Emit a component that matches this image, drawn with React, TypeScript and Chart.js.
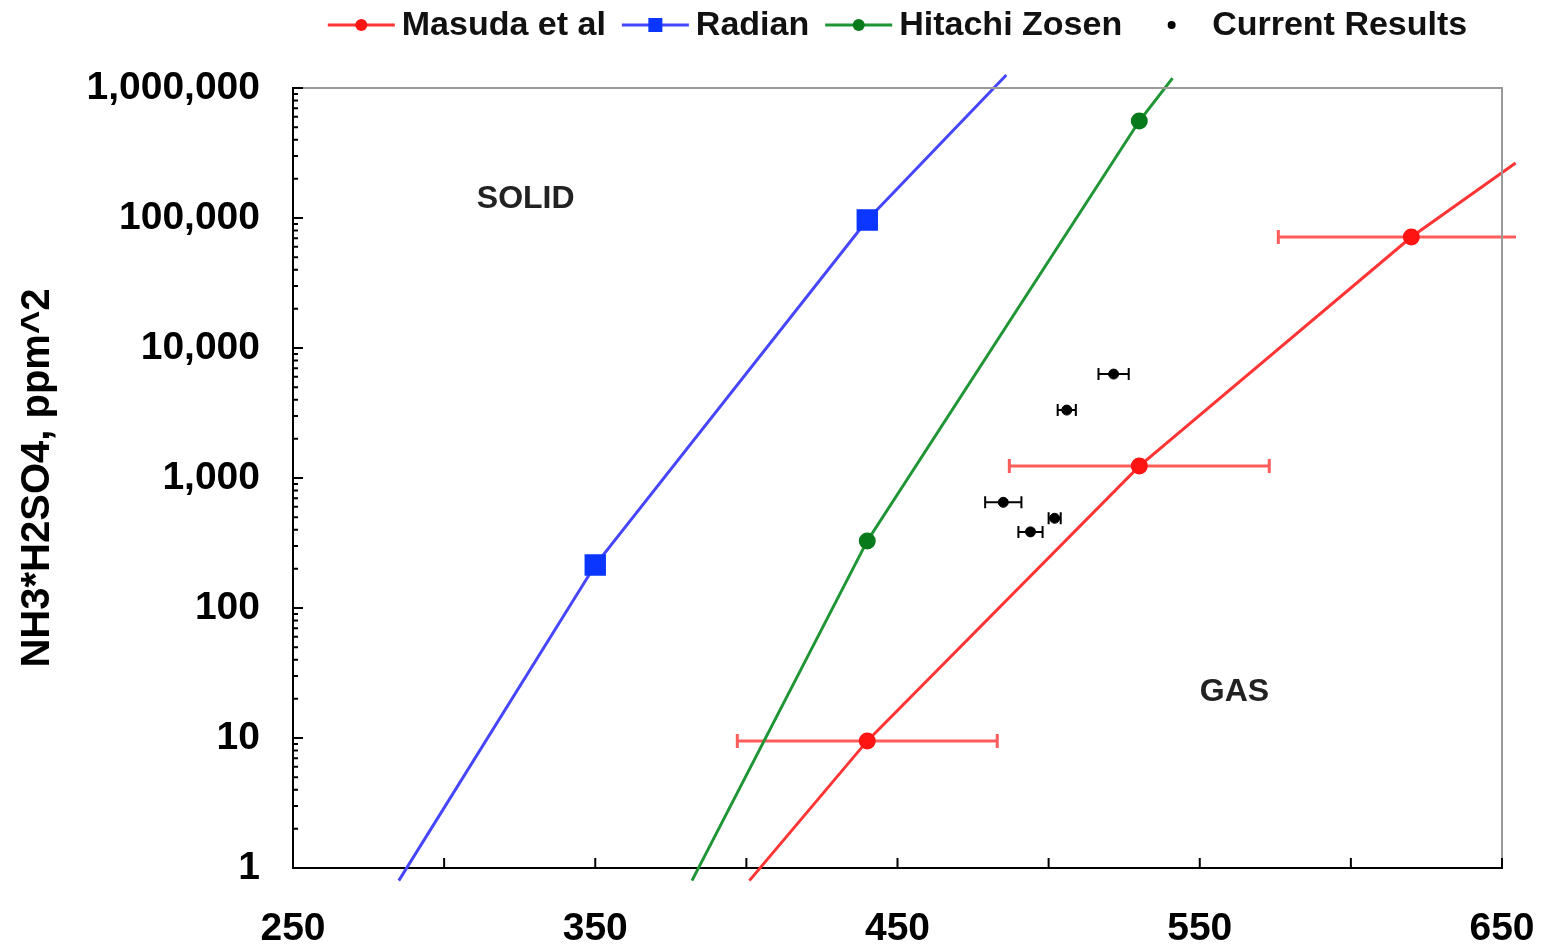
import React, { useEffect, useRef } from 'react';
import { Chart, registerables } from 'chart.js';

Chart.register(...registerables);

// ---------- data ----------
const xTickValues = [250, 350, 450, 550, 650];
const xTickMarks = [300, 350, 400, 450, 500, 550, 600, 650];
const yTickValues = [1, 10, 100, 1000, 10000, 100000, 1000000];
const yTickLabels = ['1', '10', '100', '1,000', '10,000', '100,000', '1,000,000'];

const seriesLabels = ['Masuda et al', 'Radian', 'Hitachi Zosen', 'Current Results'];

const masudaT = [401, 440, 530, 620, 654.5];
const masudaV = [0.8, 9.5, 1235, 71400, 265000];
const masudaErr = [0, 43, 43, 44, 0];

const radianT = [285, 350, 440, 486];
const radianV = [0.8, 214, 96600, 1260000];

const hitachiT = [382, 440, 530, 541];
const hitachiV = [0.8, 328, 557000, 1190000];

const currentT = [521.5, 506, 485, 494, 502];
const currentV = [6300, 3330, 650, 385, 490];
const currentErr = [5, 3, 6, 4, 2];

const regionLabels = ['SOLID', 'GAS'];
const regionT = [327, 561.5];
const regionV = [140000, 22.6];

// ---------- styles ----------
const FONT = "'Liberation Sans', Arial, Helvetica, sans-serif";
const RED_LINE = '#ff3535';
const RED_MARK = '#ff1414';
const RED_ERR = '#ff5c5c';
const BLUE_LINE = '#4646ff';
const BLUE_MARK = '#0a36ff';
const GREEN_LINE = '#1f9535';
const GREEN_MARK = '#087a1c';

const toPts = (xs: number[], ys: number[]) => xs.map((x, i) => ({ x, y: ys[i] }));
const endsHidden = (r: number) => (ctx: any) => {
  const n = ctx.dataset.data.length;
  return ctx.dataIndex === 0 || ctx.dataIndex === n - 1 ? 0 : r;
};

const errorBarPlugin = {
  id: 'errorBars',
  beforeDatasetsDraw(chart: any) {
    const { ctx, chartArea, scales } = chart;
    const sets = [
      { ds: 0, err: masudaErr, color: RED_ERR, width: 3, cap: 7 },
      { ds: 3, err: currentErr, color: '#000', width: 2, cap: 6 },
    ];
    ctx.save();
    ctx.beginPath();
    ctx.rect(chartArea.left - 40, 0, chartArea.right + 14 - (chartArea.left - 40), chart.height);
    ctx.clip();
    sets.forEach((s) => {
      const data = chart.data.datasets[s.ds].data;
      ctx.strokeStyle = s.color;
      ctx.lineWidth = s.width;
      data.forEach((p: any, i: number) => {
        const e = s.err[i];
        if (!e) return;
        const x1 = scales.x.getPixelForValue(p.x - e);
        const x2 = scales.x.getPixelForValue(p.x + e);
        const y = scales.y.getPixelForValue(p.y);
        ctx.beginPath();
        ctx.moveTo(x1, y);
        ctx.lineTo(x2, y);
        ctx.moveTo(x1, y - s.cap);
        ctx.lineTo(x1, y + s.cap);
        ctx.moveTo(x2, y - s.cap);
        ctx.lineTo(x2, y + s.cap);
        ctx.stroke();
      });
    });
    ctx.restore();
  },
};

const frameAndTicksPlugin = {
  id: 'frameTicks',
  afterDraw(chart: any) {
    const { ctx, chartArea, scales } = chart;
    const { left, right, top, bottom } = chartArea;
    ctx.save();
    ctx.strokeStyle = '#9a9a9a';
    ctx.lineWidth = 2;
    ctx.beginPath();
    ctx.moveTo(left, top);
    ctx.lineTo(right, top);
    ctx.lineTo(right, bottom);
    ctx.stroke();
    ctx.strokeStyle = '#000';
    ctx.lineWidth = 2;
    ctx.beginPath();
    xTickMarks.forEach((v) => {
      const x = scales.x.getPixelForValue(v);
      ctx.moveTo(x, bottom);
      ctx.lineTo(x, bottom - 10);
    });
    yTickValues.forEach((v, i) => {
      const y = scales.y.getPixelForValue(v);
      ctx.moveTo(left, y);
      ctx.lineTo(left + 10, y);
      if (i < yTickValues.length - 1) {
        for (let m = 2; m <= 9; m++) {
          const ym = scales.y.getPixelForValue(v * m);
          ctx.moveTo(left, ym);
          ctx.lineTo(left + 5, ym);
        }
      }
    });
    ctx.stroke();
    ctx.restore();
  },
};

const regionLabelPlugin = {
  id: 'regionLabels',
  afterDatasetsDraw(chart: any) {
    const { ctx, scales } = chart;
    ctx.save();
    ctx.font = `bold 32px ${FONT}`;
    ctx.fillStyle = '#222';
    ctx.textAlign = 'center';
    ctx.textBaseline = 'middle';
    regionLabels.forEach((t, i) => {
      ctx.fillText(t, scales.x.getPixelForValue(regionT[i]), scales.y.getPixelForValue(regionV[i]));
    });
    ctx.restore();
  },
};

const legendPlugin = {
  id: 'customLegend',
  afterDraw(chart: any) {
    const { ctx, chartArea } = chart;
    const symW = 67;
    const gapText = 7;
    const gapItem = 16;
    const y = 25;
    ctx.save();
    ctx.font = `bold 34px ${FONT}`;
    const widths = chart.data.datasets.map((d: any) => symW + gapText + ctx.measureText(d.label).width);
    const total = widths.reduce((a: number, b: number) => a + b, 0) + gapItem * (widths.length - 1);
    let x = (chartArea.left + chartArea.right) / 2 - total / 2;
    chart.data.datasets.forEach((d: any, i: number) => {
      const cx = x + symW / 2;
      if (d.showLine) {
        ctx.strokeStyle = d.borderColor;
        ctx.lineWidth = 3;
        ctx.beginPath();
        ctx.moveTo(x, y);
        ctx.lineTo(x + symW, y);
        ctx.stroke();
      }
      ctx.fillStyle = d.pointBackgroundColor;
      if (d.pointStyle === 'rect') {
        ctx.fillRect(cx - 7, y - 7, 14, 14);
      } else {
        ctx.beginPath();
        ctx.arc(cx, y, d.showLine ? 6 : 4, 0, Math.PI * 2);
        ctx.fill();
      }
      ctx.fillStyle = '#111';
      ctx.textAlign = 'left';
      ctx.textBaseline = 'middle';
      ctx.fillText(d.label, x + symW + gapText, y + 1);
      x += widths[i] + gapItem;
    });
    ctx.restore();
  },
};

export default function App() {
  const canvasRef = useRef<HTMLCanvasElement | null>(null);

  useEffect(() => {
    if (!canvasRef.current) return;
    const chart = new Chart(canvasRef.current, {
      type: 'scatter',
      data: {
        datasets: [
          {
            label: seriesLabels[0],
            data: toPts(masudaT, masudaV),
            showLine: true,
            borderColor: RED_LINE,
            borderWidth: 3,
            pointBackgroundColor: RED_MARK,
            pointBorderColor: RED_MARK,
            pointStyle: 'circle',
            pointRadius: endsHidden(7),
            clip: false,
          },
          {
            label: seriesLabels[1],
            data: toPts(radianT, radianV),
            showLine: true,
            borderColor: BLUE_LINE,
            borderWidth: 3,
            pointBackgroundColor: BLUE_MARK,
            pointBorderColor: BLUE_MARK,
            pointStyle: 'rect',
            pointRadius: endsHidden(13),
            clip: false,
          },
          {
            label: seriesLabels[2],
            data: toPts(hitachiT, hitachiV),
            showLine: true,
            borderColor: GREEN_LINE,
            borderWidth: 3,
            pointBackgroundColor: GREEN_MARK,
            pointBorderColor: GREEN_MARK,
            pointStyle: 'circle',
            pointRadius: endsHidden(7),
            clip: false,
          },
          {
            label: seriesLabels[3],
            data: toPts(currentT, currentV),
            showLine: false,
            borderColor: '#000',
            pointBackgroundColor: '#000',
            pointBorderColor: '#000',
            pointStyle: 'circle',
            pointRadius: 5,
            clip: false,
          },
        ],
      } as any,
      options: {
        animation: false,
        responsive: true,
        maintainAspectRatio: false,
        events: [],
        layout: { padding: { top: 88, right: 41, bottom: 0, left: 0 } },
        plugins: { legend: { display: false }, tooltip: { enabled: false } },
        scales: {
          x: {
            type: 'linear',
            min: 250,
            max: 650,
            afterBuildTicks: (s: any) => {
              s.ticks = xTickValues.map((v) => ({ value: v }));
            },
            afterFit: (s: any) => {
              s.height = 79;
              s.paddingLeft = 0;
              s.paddingRight = 0;
            },
            ticks: {
              font: { family: FONT, size: 39, weight: 'bold' },
              color: '#000',
              padding: 38,
              maxRotation: 0,
              autoSkip: false,
            },
            grid: { display: false, drawTicks: false },
            border: { display: true, color: '#000', width: 2 },
          },
          y: {
            type: 'logarithmic',
            min: 1,
            max: 1000000,
            afterBuildTicks: (s: any) => {
              s.ticks = yTickValues.map((v) => ({ value: v }));
            },
            afterFit: (s: any) => {
              s.width = 293;
              s.paddingTop = 0;
              s.paddingBottom = 0;
            },
            ticks: {
              font: { family: FONT, size: 39, weight: 'bold' },
              color: '#000',
              padding: 33,
              autoSkip: false,
              callback: (v: any) => {
                const i = yTickValues.indexOf(Number(v));
                return i >= 0 ? yTickLabels[i] : '';
              },
            },
            title: {
              display: true,
              text: 'NH3*H2SO4, ppm^2',
              color: '#000',
              font: { family: FONT, size: 40, weight: 'bold' },
              padding: { top: 14, bottom: 0 },
            },
            grid: { display: false, drawTicks: false },
            border: { display: true, color: '#000', width: 2 },
          },
        },
      } as any,
      plugins: [errorBarPlugin, regionLabelPlugin, frameAndTicksPlugin, legendPlugin],
    });
    return () => chart.destroy();
  }, []);

  return (
    <div style={{ position: 'absolute', left: 0, top: 0, width: 1543, height: 947, background: '#fff' }}>
      <canvas ref={canvasRef} />
    </div>
  );
}
